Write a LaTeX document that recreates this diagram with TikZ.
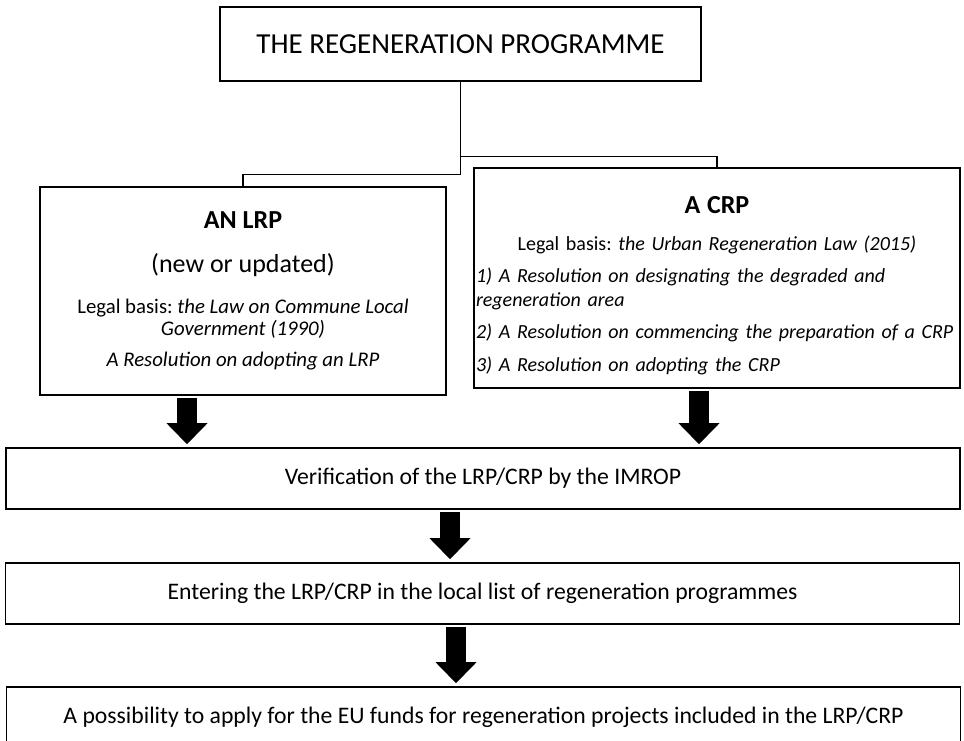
\documentclass[tikz,border=0pt]{standalone}
\usepackage{fontspec}
\setmainfont{Carlito}
\frenchspacing
\usetikzlibrary{positioning,arrows.meta}

\begin{document}
\begin{tikzpicture}[x=1pt, y=1pt,
    box/.style={draw, line width=1.6pt, inner sep=2pt},
    stage/.style={box, align=center, minimum width=954pt, minimum height=61pt,
      font=\fontsize{23.7}{27}\selectfont},
    link/.style={line width=1.3pt},
    bigarr/.style={-{Triangle[length=21pt,width=41pt,line width=0pt]},
      line width=20pt, shorten <=2pt, shorten >=3pt}
  ]
  \useasboundingbox (0,0) rectangle (964,740);

  \node[box, align=center, minimum width=481pt, minimum height=74pt,
    font=\fontsize{29}{35}\selectfont] (prog) at (460.5,696)
    {THE REGENERATION PROGRAMME};

  % the two kinds of programme
  \node[box, align=center, minimum width=406pt, minimum height=208pt,
    font=\fontsize{20.8}{22}\selectfont] (lrp) at (243,449) {%
    {\bfseries\fontsize{26}{30}\selectfont AN LRP}\\[22pt]
    {\fontsize{26}{30}\selectfont (new or updated)}\\[19pt]
    Legal basis: \textit{the Law on Commune Local}\\
    \textit{Government (1990)}\\[9pt]
    \textit{A Resolution on adopting an LRP}};
  \node[box, minimum width=486pt, minimum height=220pt, text width=482pt,
    font=\fontsize{20}{24}\selectfont] (crp) at (717,462) {%
    \centering\rule{0pt}{32pt}{\bfseries\fontsize{26}{24}\selectfont A CRP}\\[13pt]
    Legal basis: \textit{the Urban Regeneration Law (2015)}\par\vspace{8pt}
    \raggedright\itshape 1) A Resolution on designating the degraded and\\
    regeneration area\\[8pt]
    2) A Resolution on commencing the preparation of a CRP\\[9pt]
    3) A Resolution on adopting the CRP\par};

  % common steps
  \node[stage] (verif) at (483,261.5) {Verification of the LRP/CRP by the IMROP};
  \node[stage] (enter) at (482.5,146.5)
    {Entering the LRP/CRP in the local list of regeneration programmes};
  \node[stage] (funds) at (483.5,22.5)
    {A possibility to apply for the EU funds for regeneration projects included in the LRP/CRP};

  \draw[link] (prog.south) -- ++(0,-75) coordinate (fork) -| (crp.north);
  \draw[link] (fork) -- ++(0,-18) -| (lrp.north);

  \draw[bigarr] ([xshift=-56pt]lrp.south) -- ([xshift=-56pt]lrp.south |- verif.north);
  \draw[bigarr] ([xshift=-18pt]crp.south) -- ([xshift=-18pt]crp.south |- verif.north);
  \draw[bigarr] ([xshift=-33pt]verif.south) -- ([xshift=-33pt]verif.south |- enter.north);
  \draw[bigarr] ([xshift=-26.5pt]enter.south) -- ([xshift=-26.5pt]enter.south |- funds.north);
\end{tikzpicture}
\end{document}
